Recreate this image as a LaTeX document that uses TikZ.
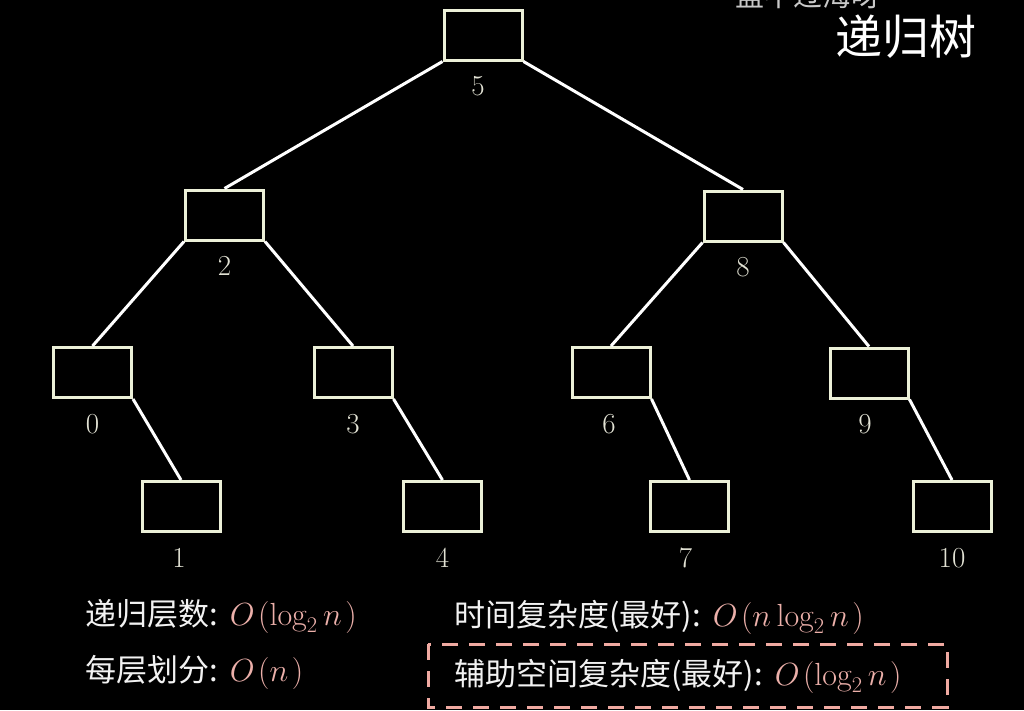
\RequirePackage{fix-cm}
\documentclass[tikz,border=0pt]{standalone}
\usepackage{fontspec}
\newfontfamily\cjk{Noto Sans CJK SC}
\definecolor{boxcol}{RGB}{236,240,216}
\definecolor{lblcol}{RGB}{226,226,212}
\definecolor{txtcol}{RGB}{242,242,242}
\definecolor{pinkc}{RGB}{236,176,170}
\definecolor{dashcol}{RGB}{240,170,162}
\definecolor{wmcol}{RGB}{200,200,200}
\newcommand{\pinkmath}[1]{\hspace{12pt}\textcolor{pinkc}{\fontsize{32}{35}\selectfont$#1$}}
\begin{document}
\begin{tikzpicture}[x=1pt,y=-1pt,
  treebox/.style={draw=boxcol, line width=3pt, minimum width=78pt, minimum height=50pt, inner sep=0pt},
  lbl/.style={text=lblcol, font=\fontsize{29}{31}\selectfont, inner sep=0pt, label distance=15pt},
  edge/.style={draw=white, line width=3pt},
  info/.style={anchor=base west, text=txtcol, inner sep=0pt, font=\cjk\fontsize{31}{34}\selectfont},
]
\fill[black] (0,0) rectangle (1024,710);
\useasboundingbox (0,0) rectangle (1024,710);

% watermark and title
\node[anchor=base west, text=wmcol, inner sep=0pt, font=\cjk\fontsize{29}{31}\selectfont] (wm) at (735,6) {蓝不过海呀};
\node[anchor=base west, text=white, inner sep=0pt, font=\cjk\fontsize{47}{50}\selectfont] (title) at (835,54) {递归树};

% tree nodes
\node[treebox, label={[lbl,xshift=-5pt]below:5}] (n5) at (483,35) {};
\node[treebox, label={[lbl]below:2}] (n2) at (224.5,215) {};
\node[treebox, label={[lbl]below:8}] (n8) at (743,216) {};
\node[treebox, label={[lbl]below:0}] (n0) at (92.5,372.5) {};
\node[treebox, label={[lbl]below:3}] (n3) at (353,372.5) {};
\node[treebox, label={[lbl,xshift=-2pt]below:6}] (n6) at (611,372.5) {};
\node[treebox, label={[lbl,xshift=-4pt]below:9}] (n9) at (869,373) {};
\node[treebox, label={[lbl,xshift=-2pt]below:1}] (n1) at (181,506.5) {};
\node[treebox, label={[lbl]below:4}] (n4) at (442.5,506.5) {};
\node[treebox, label={[lbl,xshift=-4pt]below:7}] (n7) at (689.5,506.5) {};
\node[treebox, label={[lbl]below:10}] (n10) at (952,506.5) {};

% edges
\draw[edge] (n5.south west) -- (n2.north);
\draw[edge] (n5.south east) -- (n8.north);
\draw[edge] (n2.south west) -- (n0.north);
\draw[edge] (n2.south east) -- (n3.north);
\draw[edge] (n8.south west) -- (n6.north);
\draw[edge] (n8.south east) -- (n9.north);
\draw[edge] (n0.south east) -- (n1.north);
\draw[edge] (n3.south east) -- (n4.north);
\draw[edge] (n6.south east) -- (n7.north);
\draw[edge] (n9.south east) -- (n10.north);

% info texts
\node[info] (t1) at (85,625) {递归层数:\pinkmath{O\mkern2mu(\log_2 n\mkern2mu)}};
\node[info] (t2) at (85,681) {每层划分:\pinkmath{O\mkern2mu(n\mkern2mu)}};
\node[info] (t3) at (454,626) {时间复杂度(最好):\pinkmath{O\mkern2mu(n\log_2 n\mkern2mu)}};
\node[info] (t4) at (454,685) {辅助空间复杂度(最好):\pinkmath{O\mkern2mu(\log_2 n\mkern2mu)}};

\draw[draw=dashcol, line width=3pt, dash pattern=on 16pt off 11pt] (428,644) rectangle (947,707);
\end{tikzpicture}
\end{document}
